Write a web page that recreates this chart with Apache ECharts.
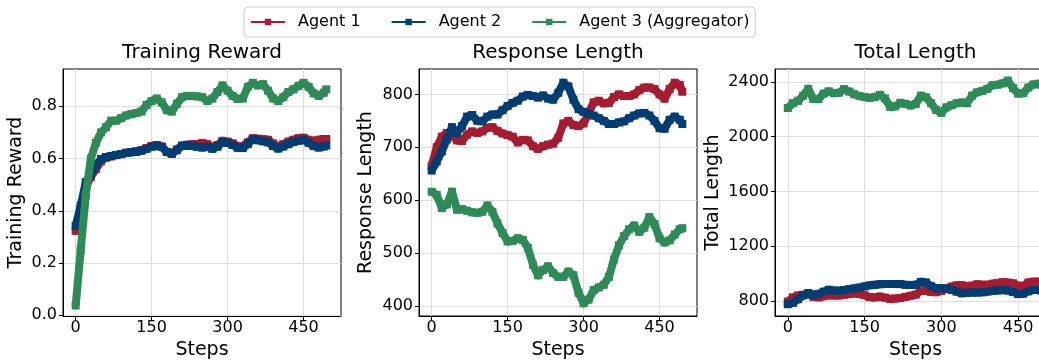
<!DOCTYPE html>
<html>
<head>
<meta charset="utf-8">
<script src="https://cdn.jsdelivr.net/npm/echarts@6/dist/echarts.min.js"></script>
<style>
  html, body { margin: 0; padding: 0; background: #ffffff; }
  #chart { width: 1039px; height: 360px; }
</style>
</head>
<body>
<div id="chart"></div>
<script>
// Training steps at which values are recorded
const steps = [0,10,20,30,40,50,60,70,80,90,100,110,120,130,140,150,160,170,180,190,200,210,220,230,240,250,260,270,280,290,300,310,320,330,340,350,360,370,380,390,400,410,420,430,440,450,460,470,480,490,495];

// Training reward
const rewardAgent1 = [0.323,0.41,0.49,0.53,0.56,0.59,0.603,0.608,0.613,0.617,0.622,0.625,0.628,0.632,0.64,0.648,0.652,0.646,0.625,0.62,0.635,0.65,0.653,0.655,0.655,0.66,0.655,0.645,0.652,0.668,0.665,0.658,0.648,0.648,0.662,0.678,0.676,0.674,0.672,0.658,0.646,0.655,0.665,0.672,0.678,0.68,0.672,0.668,0.672,0.675,0.675];
const rewardAgent2 = [0.342,0.42,0.51,0.54,0.575,0.598,0.606,0.61,0.614,0.617,0.622,0.624,0.626,0.63,0.637,0.645,0.65,0.645,0.625,0.618,0.632,0.648,0.65,0.648,0.645,0.642,0.645,0.637,0.645,0.663,0.66,0.652,0.641,0.64,0.655,0.675,0.67,0.666,0.662,0.648,0.638,0.646,0.655,0.663,0.668,0.672,0.66,0.648,0.642,0.646,0.65];
const rewardAgent3 = [0.037,0.25,0.46,0.60,0.66,0.70,0.72,0.745,0.745,0.755,0.765,0.77,0.775,0.78,0.805,0.82,0.83,0.815,0.785,0.78,0.81,0.835,0.84,0.84,0.838,0.835,0.82,0.83,0.855,0.88,0.86,0.84,0.828,0.83,0.875,0.89,0.88,0.885,0.86,0.83,0.82,0.835,0.855,0.865,0.878,0.89,0.875,0.85,0.84,0.852,0.865];

// Response length
const responseAgent1 = [665,700,720,727,722,713,712,724,730,727,730,737,738,731,726,723,720,709,714,713,702,697,702,705,707,718,745,750,742,740,745,765,785,788,783,784,795,800,797,797,800,808,813,813,810,800,792,810,822,818,805];
const responseAgent2 = [656,673,692,715,738,727,740,758,761,750,749,758,762,762,770,778,784,788,796,799,797,794,798,792,790,803,822,815,790,772,767,763,760,755,750,744,744,747,749,755,760,764,765,760,750,736,735,752,758,752,744];
const responseAgent3 = [616,610,585,592,616,582,583,580,577,576,578,590,578,556,538,522,523,528,525,510,478,458,468,475,462,455,455,465,458,425,405,412,430,435,440,455,488,515,532,545,552,540,548,568,555,528,520,524,535,545,547];

// Total length
const totalAgent1 = [795,826,840,845,849,830,826,834,842,840,840,846,850,856,850,842,828,826,832,824,815,818,822,830,838,846,876,875,866,864,873,890,905,914,915,907,912,922,918,918,926,932,936,934,929,912,910,935,941,941,935];
const totalAgent2 = [776,786,812,840,858,845,852,868,882,876,875,880,886,892,898,906,914,918,922,924,924,924,923,918,917,918,940,935,908,892,893,890,880,868,856,860,861,862,863,868,874,877,880,876,866,850,853,870,880,880,876];
const totalAgent3 = [2210,2245,2262,2300,2350,2275,2275,2315,2332,2318,2322,2348,2330,2310,2298,2290,2284,2290,2306,2280,2218,2222,2248,2240,2228,2240,2300,2288,2245,2195,2175,2215,2230,2245,2250,2245,2300,2325,2335,2350,2376,2380,2390,2410,2355,2315,2318,2360,2382,2388,2380];

// Tick values
const stepTicks = [0, 150, 300, 450];
const rewardTicks = [0, 0.2, 0.4, 0.6, 0.8];
const responseTicks = [400, 500, 600, 700, 800];
const totalTicks = [800, 1200, 1600, 2000, 2400];

const agentNames = ['Agent 1', 'Agent 2', 'Agent 3 (Aggregator)'];
const agentColors = ['#A51B30', '#003D73', '#2E8B57'];
const FONT = 'DejaVu Sans';

const panels = [
  { title: 'Training Reward', yName: 'Training Reward', left: 63, width: 278,
    yMin: -0.003, yMax: 0.943, yTicks: rewardTicks, digits: 1, nameGap: 37,
    series: [rewardAgent1, rewardAgent2, rewardAgent3] },
  { title: 'Response Length', yName: 'Response Length', left: 419, width: 278,
    yMin: 381, yMax: 848, yTicks: responseTicks, digits: 0, nameGap: 43,
    series: [responseAgent1, responseAgent2, responseAgent3] },
  { title: 'Total Length', yName: 'Total Length', left: 775, width: 281,
    yMin: 690, yMax: 2495, yTicks: totalTicks, digits: 0, nameGap: 52,
    series: [totalAgent1, totalAgent2, totalAgent3] }
];

const PLOT_TOP = 69, PLOT_HEIGHT = 247;

const grid = [], xAxis = [], yAxis = [], series = [], graphic = [];

panels.forEach((p, i) => {
  grid.push({
    left: p.left, top: PLOT_TOP, width: p.width, height: PLOT_HEIGHT,
    outerBoundsMode: 'none', containLabel: false,
    show: true, borderColor: '#000', borderWidth: 1, backgroundColor: 'transparent'
  });
  xAxis.push({
    type: 'value', gridIndex: i, min: -25, max: 524,
    name: 'Steps', nameLocation: 'middle', nameGap: 24,
    nameTextStyle: { fontFamily: FONT, fontSize: 19, color: '#000' },
    axisLine: { show: true, onZero: false, lineStyle: { color: '#000', width: 1 } },
    axisTick: { show: true, length: 4, customValues: stepTicks, lineStyle: { color: '#000' } },
    axisLabel: { customValues: stepTicks, margin: 4, fontFamily: FONT, fontSize: 16, color: '#000' },
    splitLine: { show: true, lineStyle: { color: '#dddddd', width: 1 } }
  });
  yAxis.push({
    type: 'value', gridIndex: i, min: p.yMin, max: p.yMax,
    name: p.yName, nameLocation: 'middle', nameGap: p.nameGap,
    nameTextStyle: { fontFamily: FONT, fontSize: 19, color: '#000' },
    axisLine: { show: true, onZero: false, lineStyle: { color: '#000', width: 1 } },
    axisTick: { show: true, length: 4, customValues: p.yTicks, lineStyle: { color: '#000' } },
    axisLabel: { customValues: p.yTicks, margin: 6, fontFamily: FONT, fontSize: 16, color: '#000',
      formatter: v => Number(v).toFixed(p.digits) },
    splitLine: { show: true, lineStyle: { color: '#dddddd', width: 1 } }
  });
  p.series.forEach((vals, k) => {
    series.push({
      name: agentNames[k], type: 'line', xAxisIndex: i, yAxisIndex: i,
      data: steps.map((s, j) => [s, vals[j]]),
      symbol: 'rect', symbolSize: 8, showSymbol: true,
      lineStyle: { width: 8, color: agentColors[k], join: 'round' },
      itemStyle: { color: agentColors[k] },
      emphasis: { disabled: true },
      z: 2 + k
    });
  });
  graphic.push({
    type: 'text', x: p.left + p.width / 2, y: 53,
    style: { text: p.title, x: 0, y: 0, align: 'center', verticalAlign: 'middle',
      font: '20px "DejaVu Sans"', fill: '#000' }
  });
});

const chart = echarts.init(document.getElementById('chart'), null, { renderer: 'canvas' });
chart.setOption({
  animation: false,
  backgroundColor: '#ffffff',
  color: agentColors,
  legend: {
    data: agentNames, top: 7, left: 244,
    itemWidth: 34, itemHeight: 8, itemGap: 30,
    padding: [7, 6, 7, 6],
    borderColor: '#cccccc', borderWidth: 1, borderRadius: 4,
    lineStyle: { width: 2 },
    textStyle: { fontFamily: FONT, fontSize: 16, color: '#000', padding: [0, 0, 0, 8] }
  },
  grid, xAxis, yAxis, series, graphic
});
</script>
</body>
</html>
